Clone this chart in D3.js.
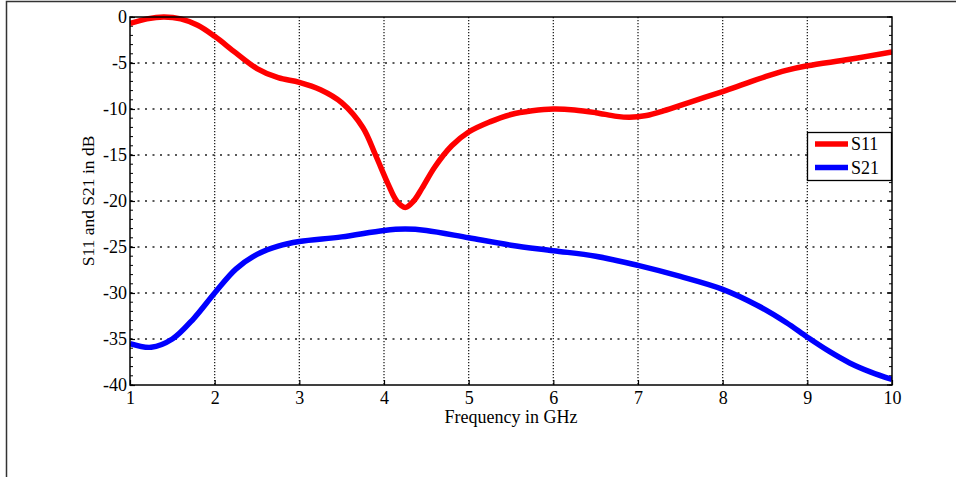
<!DOCTYPE html>
<html>
<head>
<meta charset="utf-8">
<script src="https://cdn.jsdelivr.net/npm/d3@7/dist/d3.min.js"></script>
<style>
body { margin: 0; background: #fff; }
text { font-family: "Liberation Serif", "Times New Roman", serif; fill: #000; }
</style>
</head>
<body>
<script>
var width = 956,
    height = 477;

// data
var freq11 = [1.0, 1.2, 1.4, 1.6, 1.8, 2.0, 2.25, 2.5, 2.75, 3.0, 3.25, 3.5, 3.75, 3.9, 4.05, 4.15, 4.25, 4.35, 4.45, 4.6, 4.8, 5.0, 5.25, 5.5, 5.75, 6.0, 6.25, 6.5, 6.75, 6.9, 7.1, 7.3, 7.6, 8.0, 8.25, 8.5, 8.75, 9.0, 9.5, 10.0];
var s11 = [-0.7, -0.2, 0.0, -0.2, -0.9, -2.1, -3.9, -5.6, -6.6, -7.1, -7.9, -9.3, -12.0, -15.0, -18.2, -20.0, -20.7, -20.0, -18.6, -16.3, -14.0, -12.5, -11.4, -10.6, -10.2, -10.0, -10.1, -10.4, -10.8, -10.9, -10.7, -10.2, -9.3, -8.1, -7.3, -6.5, -5.8, -5.3, -4.6, -3.8];

var freq21 = [1.0, 1.25, 1.5, 1.75, 2.0, 2.25, 2.5, 2.75, 3.0, 3.5, 4.0, 4.25, 4.5, 5.0, 5.5, 6.0, 6.5, 7.0, 7.5, 8.0, 8.4, 8.75, 9.0, 9.25, 9.5, 9.75, 10.0];
var s21 = [-35.5, -35.9, -35.0, -32.8, -30.0, -27.4, -25.8, -24.9, -24.4, -23.9, -23.2, -23.05, -23.2, -24.0, -24.8, -25.4, -26.0, -27.0, -28.2, -29.6, -31.3, -33.2, -34.8, -36.3, -37.6, -38.6, -39.4];

var xTicks = [1, 2, 3, 4, 5, 6, 7, 8, 9, 10];
var yTicks = [0, -5, -10, -15, -20, -25, -30, -35, -40];
var seriesNames = ["S11", "S21"];
var seriesColors = ["#ff0000", "#0000ff"];

var plotL = 130, plotR = 892, plotT = 17, plotB = 385;

var x = d3.scaleLinear().domain([1, 10]).range([plotL, plotR]);
var y = d3.scaleLinear().domain([0, -40]).range([plotT, plotB]);

var svg = d3.select("body").append("svg")
    .attr("width", width)
    .attr("height", height);

// outer figure frame (left and top edges only visible)
svg.append("path")
    .attr("d", "M6.5," + height + "V1.5H" + width)
    .attr("fill", "none")
    .attr("stroke", "#333")
    .attr("stroke-width", 1.5);

// grid
var grid = svg.append("g");
grid.selectAll(".gx")
    .data(xTicks.slice(1, -1)).enter()
    .append("line")
    .attr("x1", function(d) { return x(d); })
    .attr("x2", function(d) { return x(d); })
    .attr("y1", plotT).attr("y2", plotB)
    .attr("stroke", "#222")
    .attr("stroke-width", 1.3)
    .attr("stroke-dasharray", "1.3,1.7");
grid.selectAll(".gy")
    .data(yTicks.slice(1, -1)).enter()
    .append("line")
    .attr("y1", function(d) { return y(d); })
    .attr("y2", function(d) { return y(d); })
    .attr("x1", plotL).attr("x2", plotR)
    .attr("stroke", "#222")
    .attr("stroke-width", 1.5)
    .attr("stroke-dasharray", "2,5.5");

// axes with inward ticks
var xAxis = svg.append("g")
    .attr("transform", "translate(0," + plotB + ")")
    .call(d3.axisBottom(x).tickValues(xTicks).tickSizeInner(-5).tickSizeOuter(0).tickPadding(6).tickFormat(d3.format("d")));
var yAxis = svg.append("g")
    .attr("transform", "translate(" + plotL + ",0)")
    .call(d3.axisLeft(y).tickValues(yTicks).tickSizeInner(-5).tickSizeOuter(0).tickPadding(3).tickFormat(function(d) { return d === 0 ? "0" : "-" + Math.abs(d); }));

[xAxis, yAxis].forEach(function(a) {
    a.select(".domain").remove();
    a.selectAll("line").attr("stroke", "#000").attr("stroke-width", 1.2);
    a.selectAll("text")
        .style("font-family", "'Liberation Serif', serif")
        .style("font-size", "18px")
        .attr("fill", "#000");
});

// minor ticks on the left and right
var minorY = d3.range(0, -41, -1);
svg.append("g").selectAll("line")
    .data(minorY).enter()
    .append("line")
    .attr("x1", plotL).attr("x2", plotL + 3)
    .attr("y1", function(d) { return y(d); })
    .attr("y2", function(d) { return y(d); })
    .attr("stroke", "#000").attr("stroke-width", 1);
svg.append("g").selectAll("line")
    .data(minorY).enter()
    .append("line")
    .attr("x1", plotR - 3).attr("x2", plotR)
    .attr("y1", function(d) { return y(d); })
    .attr("y2", function(d) { return y(d); })
    .attr("stroke", "#000").attr("stroke-width", 1);

// right major ticks
svg.append("g").selectAll("line")
    .data(yTicks).enter()
    .append("line")
    .attr("x1", plotR - 5).attr("x2", plotR)
    .attr("y1", function(d) { return y(d); })
    .attr("y2", function(d) { return y(d); })
    .attr("stroke", "#000").attr("stroke-width", 1.2);

// curves
var line = d3.line()
    .x(function(d) { return x(d[0]); })
    .y(function(d) { return y(d[1]); })
    .curve(d3.curveCatmullRom.alpha(0.5));

var curves = [d3.zip(freq11, s11), d3.zip(freq21, s21)];

svg.append("defs").append("clipPath").attr("id", "clip")
    .append("rect")
    .attr("x", plotL).attr("y", plotT - 3)
    .attr("width", plotR - plotL).attr("height", plotB - plotT + 6);

svg.append("g")
    .attr("clip-path", "url(#clip)")
    .selectAll("path")
    .data(curves).enter()
    .append("path")
    .attr("d", line)
    .attr("fill", "none")
    .attr("stroke", function(d, i) { return seriesColors[i]; })
    .attr("stroke-width", 5.5)
    .attr("stroke-linejoin", "round");

// plot box
svg.append("rect")
    .attr("x", plotL).attr("y", plotT)
    .attr("width", plotR - plotL).attr("height", plotB - plotT)
    .attr("fill", "none")
    .attr("stroke", "#000")
    .attr("stroke-width", 1.5);

// labels
svg.append("text")
    .attr("x", 511)
    .attr("y", 423)
    .attr("text-anchor", "middle")
    .style("font-size", "18px")
    .text("Frequency in GHz");

svg.append("text")
    .attr("transform", "translate(94," + ((plotT + plotB) / 2) + ") rotate(-90)")
    .attr("text-anchor", "middle")
    .style("font-size", "17.5px")
    .text("S11 and S21 in dB");

// legend
var legend = svg.append("g");
legend.append("rect")
    .attr("x", 807.5).attr("y", 132.5)
    .attr("width", 84).attr("height", 48)
    .attr("fill", "#fff")
    .attr("stroke", "#000")
    .attr("stroke-width", 1.3);

var items = legend.selectAll(".item")
    .data(seriesNames).enter()
    .append("g")
    .attr("transform", function(d, i) { return "translate(0," + (144 + i * 23.5) + ")"; });
items.append("line")
    .attr("x1", 815).attr("x2", 848)
    .attr("y1", 0).attr("y2", 0)
    .attr("stroke", function(d, i) { return seriesColors[i]; })
    .attr("stroke-width", 5.5);
items.append("text")
    .attr("x", 851)
    .attr("y", 6)
    .style("font-size", "18px")
    .text(function(d) { return d; });
</script>
</body>
</html>
